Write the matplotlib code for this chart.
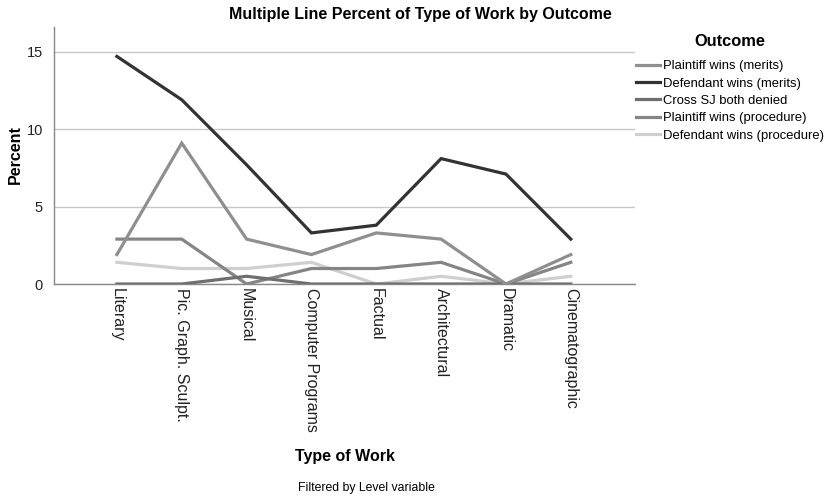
import matplotlib
matplotlib.use("Agg")
import matplotlib.pyplot as plt

categories = ["Literary", "Pic. Graph. Sculpt.", "Musical", "Computer Programs",
              "Factual", "Architectural", "Dramatic", "Cinematographic"]
series_names = ["Plaintiff wins (merits)", "Defendant wins (merits)", "Cross SJ both denied",
                "Plaintiff wins (procedure)", "Defendant wins (procedure)"]
plaintiff_merits = [1.9, 9.1, 2.9, 1.9, 3.3, 2.9, 0.0, 1.9]
defendant_merits = [14.7, 11.9, 7.7, 3.3, 3.8, 8.1, 7.1, 2.9]
cross_sj = [0.0, 0.0, 0.5, 0.0, 0.0, 0.0, 0.0, 0.0]
plaintiff_proc = [2.9, 2.9, 0.0, 1.0, 1.0, 1.4, 0.0, 1.4]
defendant_proc = [1.4, 1.0, 1.0, 1.4, 0.0, 0.5, 0.0, 0.5]
yticks = [0, 5, 10, 15]

colors = ["#8f8f8f", "#333333", "#6f6f6f", "#858585", "#cfcfcf"]
data = [plaintiff_merits, defendant_merits, cross_sj, plaintiff_proc, defendant_proc]

plt.rcParams['font.family'] = ['Liberation Sans', 'DejaVu Sans']

fig = plt.figure(figsize=(8.24, 4.96), dpi=100)
ax = fig.add_axes([54/824, 1-284/496, (635-54)/824, (284-27)/496])

x = list(range(len(categories)))
order = [4, 3, 2, 0, 1]
lines = {}
for i in order:
    ln, = ax.plot(x, data[i], color=colors[i], lw=2.3, solid_joinstyle='miter', zorder=3)
    lines[i] = ln

ax.set_xlim(-0.97, 7.99)
ax.set_ylim(0, 16.6)
ax.set_yticks(yticks)
ax.set_xticks(x)
ax.set_xticklabels(categories, rotation=-90, fontsize=11.5, va='top', ha='center')
ax.tick_params(axis='both', length=0, colors='#222222')
ax.tick_params(axis='y', labelsize=10.5, pad=8)
ax.tick_params(axis='x', pad=3)
ax.grid(axis='y', color='#c8c8c8', lw=1)
ax.set_axisbelow(True)
for s in ['top', 'right']:
    ax.spines[s].set_visible(False)
for s in ['left', 'bottom']:
    ax.spines[s].set_color('#888888')
    ax.spines[s].set_linewidth(1)

fig.text(420/824, 1-14/496, "Multiple Line Percent of Type of Work by Outcome",
         ha='center', va='center', fontsize=11.5, fontweight='bold')
fig.text(15/824, 1-155/496, "Percent", rotation=90, ha='center', va='center',
         fontsize=11.5, fontweight='bold')
fig.text(345/824, 1-456/496, "Type of Work", ha='center', va='center',
         fontsize=11.5, fontweight='bold')
fig.text(366/824, 1-488/496, "Filtered by Level variable", ha='center', va='center',
         fontsize=8.8)
fig.text(730/824, 1-42/496, "Outcome", ha='center', va='center',
         fontsize=11.8, fontweight='bold')

handles = [lines[i] for i in range(5)]
leg = fig.legend(handles, series_names, loc='upper left', bbox_to_anchor=(636/824, 1-60/496),
                 frameon=False, fontsize=9.4, handlelength=1.85,
                 handletextpad=0.25, labelspacing=0.4, borderaxespad=0, borderpad=0)

fig.savefig("out.png", dpi=100)
